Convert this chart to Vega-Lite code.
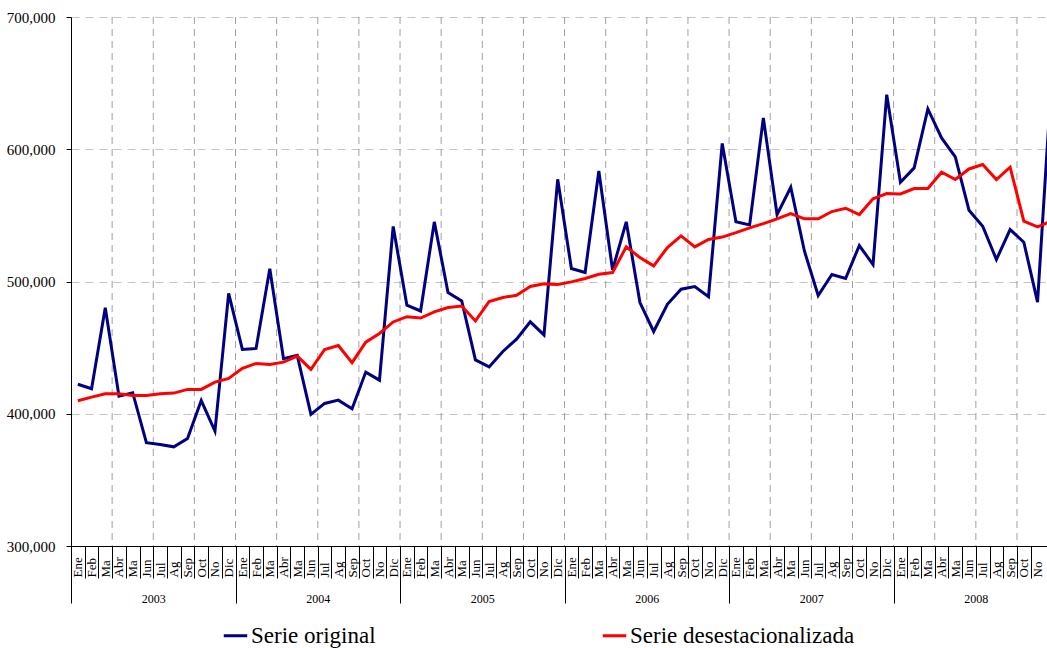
{
  "$schema": "https://vega.github.io/schema/vega-lite/v6.json",
  "width": 976,
  "height": 529,
  "autosize": {"type": "none"},
  "padding": {"left": 71, "top": 17, "right": 0, "bottom": 102},
  "background": "white",
  "config": {"view": {"stroke": null}, "font": "Liberation Serif", "legend": {"labelFont": "Liberation Serif"}, "axis": {"labelFont": "Liberation Serif"}},
  "datasets": {
    "series": [
      {"i": 0, "o": 422300, "d": 409800},
      {"i": 1, "o": 418900, "d": 412600},
      {"i": 2, "o": 480100, "d": 415100},
      {"i": 3, "o": 413300, "d": 415100},
      {"i": 4, "o": 415900, "d": 413800},
      {"i": 5, "o": 378100, "d": 413800},
      {"i": 6, "o": 376800, "d": 415100},
      {"i": 7, "o": 375000, "d": 415600},
      {"i": 8, "o": 381300, "d": 418400},
      {"i": 9, "o": 410000, "d": 418400},
      {"i": 10, "o": 386900, "d": 423900},
      {"i": 11, "o": 491000, "d": 426700},
      {"i": 12, "o": 448600, "d": 434300},
      {"i": 13, "o": 449400, "d": 438000},
      {"i": 14, "o": 509600, "d": 437300},
      {"i": 15, "o": 441600, "d": 439000},
      {"i": 16, "o": 444100, "d": 443600},
      {"i": 17, "o": 399500, "d": 433500},
      {"i": 18, "o": 407800, "d": 448600},
      {"i": 19, "o": 410300, "d": 451600},
      {"i": 20, "o": 403800, "d": 438600},
      {"i": 21, "o": 431500, "d": 454100},
      {"i": 22, "o": 425400, "d": 460700},
      {"i": 23, "o": 541600, "d": 469400},
      {"i": 24, "o": 482100, "d": 473400},
      {"i": 25, "o": 477700, "d": 472400},
      {"i": 26, "o": 545100, "d": 477000},
      {"i": 27, "o": 491700, "d": 480300},
      {"i": 28, "o": 485300, "d": 481500},
      {"i": 29, "o": 440700, "d": 470200},
      {"i": 30, "o": 435400, "d": 484900},
      {"i": 31, "o": 447100, "d": 487900},
      {"i": 32, "o": 456400, "d": 489600},
      {"i": 33, "o": 469500, "d": 496200},
      {"i": 34, "o": 459600, "d": 498200},
      {"i": 35, "o": 577300, "d": 497700},
      {"i": 36, "o": 509800, "d": 499700},
      {"i": 37, "o": 506800, "d": 502300},
      {"i": 38, "o": 583600, "d": 505500},
      {"i": 39, "o": 508800, "d": 506800},
      {"i": 40, "o": 545100, "d": 526200},
      {"i": 41, "o": 484100, "d": 518100},
      {"i": 42, "o": 462200, "d": 511800},
      {"i": 43, "o": 482800, "d": 525700},
      {"i": 44, "o": 494200, "d": 534500},
      {"i": 45, "o": 496200, "d": 526200},
      {"i": 46, "o": 488500, "d": 531800},
      {"i": 47, "o": 604400, "d": 533600},
      {"i": 48, "o": 545200, "d": 536900},
      {"i": 49, "o": 542800, "d": 540600},
      {"i": 50, "o": 623700, "d": 543800},
      {"i": 51, "o": 550600, "d": 547400},
      {"i": 52, "o": 571300, "d": 551400},
      {"i": 53, "o": 522900, "d": 547400},
      {"i": 54, "o": 489400, "d": 547400},
      {"i": 55, "o": 505300, "d": 552900},
      {"i": 56, "o": 502300, "d": 555400},
      {"i": 57, "o": 527200, "d": 550600},
      {"i": 58, "o": 512800, "d": 562500},
      {"i": 59, "o": 641300, "d": 566500},
      {"i": 60, "o": 575100, "d": 566200},
      {"i": 61, "o": 585900, "d": 570300},
      {"i": 62, "o": 630500, "d": 570300},
      {"i": 63, "o": 608600, "d": 582600},
      {"i": 64, "o": 594200, "d": 577100},
      {"i": 65, "o": 553900, "d": 585100},
      {"i": 66, "o": 541800, "d": 588400},
      {"i": 67, "o": 516600, "d": 577100},
      {"i": 68, "o": 539300, "d": 586400},
      {"i": 69, "o": 529700, "d": 545600},
      {"i": 70, "o": 484400, "d": 541300},
      {"i": 71, "o": 650000, "d": 545800}
    ],
    "quarters": [
      {"b": 2.5}, {"b": 5.5}, {"b": 8.5}, {"b": 11.5}, {"b": 14.5}, {"b": 17.5},
      {"b": 20.5}, {"b": 23.5}, {"b": 26.5}, {"b": 29.5}, {"b": 32.5}, {"b": 35.5},
      {"b": 38.5}, {"b": 41.5}, {"b": 44.5}, {"b": 47.5}, {"b": 50.5}, {"b": 53.5},
      {"b": 56.5}, {"b": 59.5}, {"b": 62.5}, {"b": 65.5}, {"b": 68.5}
    ]
  },
  "layer": [
    {
      "data": {"name": "quarters"},
      "mark": {"type": "rule", "color": "#a0a0a0", "strokeDash": [7, 5], "strokeWidth": 1},
      "encoding": {
        "x": {
          "field": "b",
          "type": "quantitative",
          "scale": {"domain": [-0.5, 70.69], "nice": false, "zero": false},
          "axis": {
            "orient": "bottom",
            "offset": 0,
            "title": null,
            "values": [5.5, 17.5, 29.5, 41.5, 53.5, 65.5],
            "labelExpr": "'' + (2003 + floor(datum.value / 12))",
            "tickOffset": -82.26,
            "labelOffset": 82.26,
            "tickSize": 57,
            "tickColor": "black",
            "tickWidth": 1,
            "domain": false,
            "grid": false,
            "labelFont": "Liberation Serif",
            "labelFontSize": 12,
            "labelColor": "black",
            "labelAngle": 0,
            "labelBaseline": "middle",
            "labelPadding": -5,
            "labelFlush": false,
            "labelOverlap": false,
            "labelBound": false
          }
        }
      }
    },
    {
      "data": {"name": "series"},
      "transform": [{"fold": ["o", "d"], "as": ["s", "v"]}],
      "mark": {"type": "line", "strokeWidth": 3},
      "encoding": {
        "x": {
          "field": "i",
          "type": "quantitative",
          "axis": {
            "orient": "bottom",
            "offset": 0,
            "title": null,
            "values": [0,1,2,3,4,5,6,7,8,9,10,11,12,13,14,15,16,17,18,19,20,21,22,23,24,25,26,27,28,29,30,31,32,33,34,35,36,37,38,39,40,41,42,43,44,45,46,47,48,49,50,51,52,53,54,55,56,57,58,59,60,61,62,63,64,65,66,67,68,69,70,71],
            "labelExpr": "['Ene','Feb','Ma','Abr','Ma','Jun','Jul','Ag','Sep','Oct','No','Dic'][datum.value % 12]",
            "labelAngle": 270,
            "labelAlign": "left",
            "labelBaseline": "middle",
            "labelPadding": -1,
            "labelFont": "Liberation Serif",
            "labelFontSize": 13,
            "labelColor": "black",
            "tickOffset": -6.855,
            "labelOffset": 6.855,
            "tickSize": 32,
            "tickColor": "black",
            "tickWidth": 1,
            "domain": true,
            "domainColor": "black",
            "domainWidth": 1,
            "grid": false,
            "labelFlush": false,
            "labelOverlap": false,
            "labelBound": false
          }
        },
        "y": {
          "field": "v",
          "type": "quantitative",
          "scale": {"domain": [300000, 700000], "nice": false, "zero": false},
          "axis": {
            "title": null,
            "values": [300000, 400000, 500000, 600000, 700000],
            "format": ",.0f",
            "tickSize": 5,
            "tickColor": "black",
            "domainColor": "black",
            "labelFont": "Liberation Serif",
            "labelFontSize": 15,
            "labelColor": "black",
            "labelPadding": 11,
            "grid": true,
            "gridColor": "#c4c4c4",
            "gridDash": [8, 6],
            "gridWidth": 1
          }
        },
        "color": {
          "field": "s",
          "type": "nominal",
          "scale": {"domain": ["o", "d"], "range": ["#000080", "#ff0000"]},
          "legend": {
            "title": null,
            "orient": "none",
            "legendX": 151,
            "legendY": 605,
            "direction": "horizontal",
            "symbolType": "stroke",
            "symbolStrokeWidth": 3,
            "symbolSize": 552,
            "labelFont": "Liberation Serif, Times New Roman, serif",
            "labelFontSize": 23,
            "labelColor": "black",
            "labelOffset": 2,
            "labelLimit": 400,
            "columnPadding": 220,
            "labelExpr": "datum.label == 'o' ? 'Serie original' : 'Serie desestacionalizada'"
          }
        }
      }
    }
  ],
  "resolve": {"axis": {"x": "independent"}}
}
